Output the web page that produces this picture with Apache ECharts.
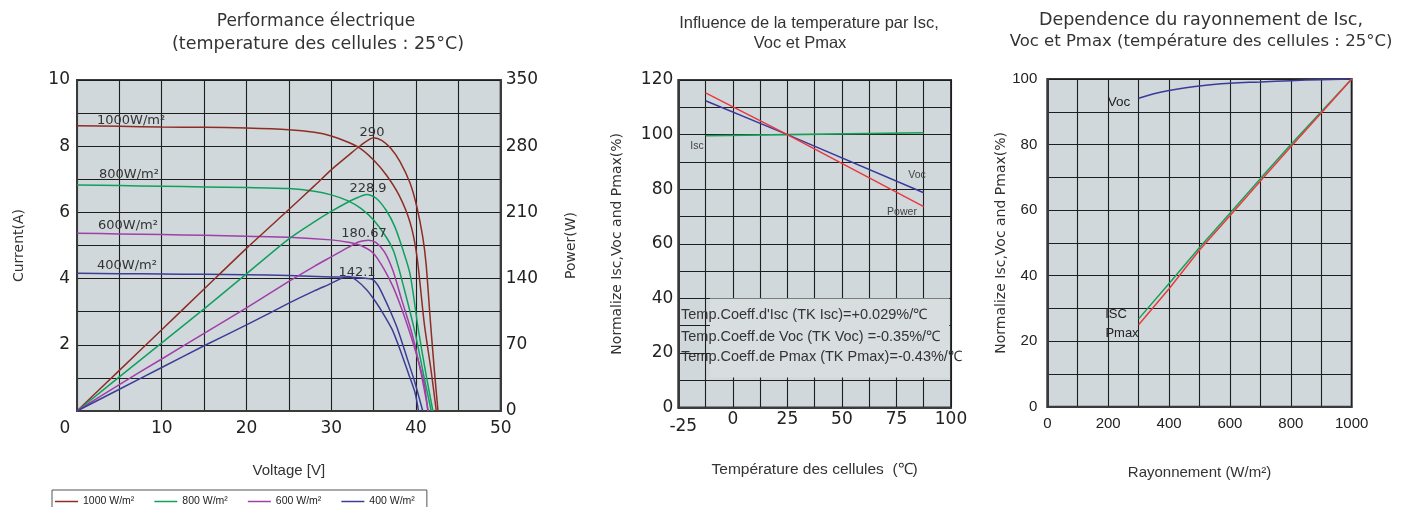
<!DOCTYPE html>
<html>
<head>
<meta charset="utf-8">
<script src="https://cdn.jsdelivr.net/npm/echarts@6/dist/echarts.min.js"></script>
<style>
html,body{margin:0;padding:0;background:#fff;}
#c{width:1401px;height:507px;}
</style>
</head>
<body>
<div id="c"></div>
<script>
// ---------- Chart 1: I-V / P-V curves ----------
const irradianceNames = ['1000 W/m²', '800 W/m²', '600 W/m²', '400 W/m²'];
const curveColors = ['#8e2d25', '#10a05e', '#a03fa8', '#3d3d96'];
const iv1000 = [[0,8.62],[5,8.60],[10,8.58],[15,8.57],[20,8.55],[25,8.50],[28,8.42],[30,8.31],[32,8.12],[33.5,7.92],[35,7.58],[36.5,7.13],[38,6.52],[39.3,5.7],[40.1,4.7],[41.0,2.6],[41.8,1.2],[42.4,0]];
const pv1000 = [[0,0],[5,43],[10,86],[15,129],[20,172],[25,213],[28,238],[30,255],[32,270],[33.5,281],[35,289],[36,286],[37,278],[38.1,264],[39.3,241],[40.1,216],[40.8,184],[41.2,155],[41.7,95],[42.2,40],[42.6,0]];
const iv800 = [[0,6.83],[5,6.81],[10,6.79],[15,6.77],[20,6.75],[25,6.72],[28,6.64],[30,6.53],[32,6.35],[33.5,6.12],[35,5.77],[36.5,5.25],[37.4,4.8],[38.6,3.7],[39.9,2.36],[40.9,1.1],[41.8,0]];
const pv800 = [[0,0],[5,36],[10,72],[15,108],[20,145],[25,182],[28,200],[30,211],[32,221],[33.2,226],[34.2,228.9],[35.3,225],[36.5,212],[37.5,195],[38.4,172],[39.3,145],[40.3,85],[41.2,38],[42.0,0]];
const iv600 = [[0,5.37],[5,5.35],[10,5.33],[15,5.31],[20,5.28],[25,5.25],[30,5.17],[32,5.10],[33.5,5.0],[35,4.76],[36.2,4.3],[37.3,3.75],[38.3,3.1],[39.3,2.35],[40.3,1.5],[41.0,0.8],[41.4,0]];
const pv600 = [[0,0],[5,28],[10,55],[15,82],[20,109],[25,137],[28,153],[30,163],[32,173],[33.3,179],[34.4,180.67],[35.3,178],[36.3,168],[37.3,148],[38.3,118],[39.5,83],[40.6,40],[41.45,0]];
const iv400 = [[0,4.16],[5,4.15],[10,4.14],[15,4.13],[20,4.12],[25,4.09],[30,4.05],[33,4.03],[34.8,3.98],[35.5,3.8],[36.2,3.45],[37.0,3.0],[37.8,2.5],[38.9,1.64],[39.9,0.84],[40.8,0]];
const pv400 = [[0,0],[5,23],[10,46],[15,69],[20,91],[25,114],[28,127],[30,135],[31,139.5],[32,142.1],[33,138],[34.2,128],[35.2,116],[36.2,102],[37.2,86],[38.2,63],[39.1,40],[39.9,19],[40.3,0]];
const peakLabels = ['290', '228.9', '180.67', '142.1'];
const curveLabels = ['1000W/m²', '800W/m²', '600W/m²', '400W/m²'];

// ---------- Chart 2: temperature influence ----------
const tempIsc = [[-12.5,99.6],[25,100],[87.5,100.7]];
const tempVoc = [[-12.5,112.4],[25,100],[87.5,78.7]];
const tempPower = [[-12.5,115.3],[25,100],[87.5,73.6]];
const coeffTexts = ["Temp.Coeff.d'Isc (TK Isc)=+0.029%/℃", "Temp.Coeff.de Voc (TK Voc) =-0.35%/℃", "Temp.Coeff.de Pmax (TK Pmax)=-0.43%/℃"];

// ---------- Chart 3: irradiance dependence ----------
const irrVoc = [[300,94.1],[350,95.5],[400,96.5],[500,97.9],[600,98.7],[700,99.1],[800,99.5],[900,99.8],[1000,100]];
const irrIsc = [[300,26.8],[400,37.6],[500,48.6],[600,59.0],[700,69.6],[800,80.0],[900,90.0],[1000,100]];
const irrPmax = [[300,25.0],[400,36.0],[500,47.8],[600,58.3],[700,68.9],[800,79.3],[900,89.6],[1000,100]];

const BG = '#d0d8dc';
const GRIDLINE = '#1e1e1e';
const TXT = '#333';
const F1 = 'DejaVu Sans';
const F2 = 'Liberation Sans';

const chart = echarts.init(document.getElementById('c'), null, {renderer: 'canvas'});

function gridDef(left, top, width, height) {
  return {left, top, width, height, show: true, backgroundColor: BG, borderColor: '#3a3a3a', borderWidth: 2, containLabel: false};
}
function valAxis(extra) {
  return Object.assign({
    type: 'value',
    axisLine: {show: true, onZero: false, lineStyle: {color: '#3a3a3a', width: 2}},
    axisTick: {show: false},
    splitLine: {show: true, lineStyle: {color: GRIDLINE, width: 1.1}},
    nameLocation: 'middle',
    nameTextStyle: {color: TXT}
  }, extra);
}
function every(step) {
  return function (v) { return Math.abs(v / step - Math.round(v / step)) < 1e-6 ? String(v) : ''; };
}

const ivSets = [iv1000, iv800, iv600, iv400];
const pvSets = [pv1000, pv800, pv600, pv400];

const series = [];
ivSets.forEach((d, i) => {
  series.push({name: irradianceNames[i], type: 'line', xAxisIndex: 0, yAxisIndex: 0, data: d,
    smooth: 0.25, symbol: 'none', showSymbol: false,
    lineStyle: {color: curveColors[i], width: 1.5}, itemStyle: {color: curveColors[i]}, z: 3});
});
pvSets.forEach((d, i) => {
  series.push({name: 'P ' + irradianceNames[i], type: 'line', xAxisIndex: 0, yAxisIndex: 1, data: d,
    smooth: 0.25, symbol: 'none', showSymbol: false,
    lineStyle: {color: curveColors[i], width: 1.5}, itemStyle: {color: curveColors[i]}, z: 3});
});
series.push({name: 'Isc', type: 'line', xAxisIndex: 1, yAxisIndex: 2, data: tempIsc, symbol: 'none',
  lineStyle: {color: '#1a9e58', width: 1.6}, itemStyle: {color: '#1a9e58'}, z: 4,
  markArea: {silent: true, itemStyle: {color: '#d8dde0'}, data: [[{coord: [-10.5, 40]}, {coord: [99.2, 11]}]]}});
series.push({name: 'Voc', type: 'line', xAxisIndex: 1, yAxisIndex: 2, data: tempVoc, symbol: 'none',
  lineStyle: {color: '#3a3a99', width: 1.4}, itemStyle: {color: '#3a3a99'}, z: 4});
series.push({name: 'Power', type: 'line', xAxisIndex: 1, yAxisIndex: 2, data: tempPower, symbol: 'none',
  lineStyle: {color: '#e8383d', width: 1.4}, itemStyle: {color: '#e8383d'}, z: 5});
series.push({name: 'Voc2', type: 'line', xAxisIndex: 2, yAxisIndex: 3, data: irrVoc, symbol: 'none', smooth: 0.4,
  lineStyle: {color: '#3a3a99', width: 1.5}, itemStyle: {color: '#3a3a99'}, z: 4});
series.push({name: 'Isc2', type: 'line', xAxisIndex: 2, yAxisIndex: 3, data: irrIsc, symbol: 'none',
  lineStyle: {color: '#16a05c', width: 1.5}, itemStyle: {color: '#16a05c'}, z: 4});
series.push({name: 'Pmax2', type: 'line', xAxisIndex: 2, yAxisIndex: 3, data: irrPmax, symbol: 'none',
  lineStyle: {color: '#e83a3a', width: 1.5}, itemStyle: {color: '#e83a3a'}, z: 4});

function txt(x, y, text, opt) {
  opt = opt || {};
  return {type: 'text', x, y, silent: true, z: 100,
    style: {text, fill: opt.fill || TXT, fontSize: opt.size || 13, fontFamily: opt.family || F1,
      fontWeight: opt.weight || 'normal', align: opt.align || 'center', verticalAlign: 'middle'}};
}

const graphics = [
  // titles
  txt(316, 22, 'Performance électrique', {size: 17}),
  txt(318, 44, '(temperature des cellules : 25°C)', {size: 17.5}),
  txt(809, 23, 'Influence de la temperature par Isc,', {size: 16.5, family: F2}),
  txt(800, 43, 'Voc et Pmax', {size: 16.5, family: F2}),
  txt(1201, 20, 'Dependence du rayonnement de Isc,', {size: 17.5}),
  txt(1201, 42, 'Voc et Pmax (température des cellules : 25°C)', {size: 16.5}),
  // chart 1 annotations
  txt(97, 121, curveLabels[0], {align: 'left'}),
  txt(99, 175, curveLabels[1], {align: 'left'}),
  txt(98, 226, curveLabels[2], {align: 'left'}),
  txt(97, 266, curveLabels[3], {align: 'left'}),
  txt(372, 133, peakLabels[0]),
  txt(368, 189, peakLabels[1]),
  txt(364, 234, peakLabels[2]),
  txt(357, 273, peakLabels[3]),
  // chart 2 annotations
  txt(697, 146, 'Isc', {size: 10.5, family: F2, fill: '#444'}),
  txt(917, 175, 'Voc', {size: 10.5, family: F2, fill: '#444'}),
  txt(902, 212, 'Power', {size: 10.5, family: F2, fill: '#444'}),
  txt(681, 315, coeffTexts[0], {size: 14.5, family: F2, align: 'left'}),
  txt(681, 336.5, coeffTexts[1], {size: 14.5, family: F2, align: 'left'}),
  txt(681, 357, coeffTexts[2], {size: 14.5, family: F2, align: 'left'}),
  // chart 3 annotations
  txt(1119, 102, 'Voc', {size: 13.5, family: F2, fill: '#222'}),
  txt(1116, 314, 'ISC', {size: 13, family: F2, fill: '#222'}),
  txt(1122, 333, 'Pmax', {size: 13, family: F2, fill: '#222'})
];

const option = {
  animation: false,
  backgroundColor: '#fff',
  textStyle: {fontFamily: F1},
  grid: [
    gridDef(77, 80, 423.7, 331),
    gridDef(678.3, 80, 272.7, 327.6),
    gridDef(1047.3, 79, 304.4, 327.7)
  ],
  xAxis: [
    valAxis({gridIndex: 0, min: 0, max: 50, interval: 5, name: 'Voltage [V]', nameGap: 52,
      nameTextStyle: {color: TXT, fontFamily: F2, fontSize: 15},
      axisLabel: {formatter: v => v === 0 ? '{z|0}' : every(10)(v), fontFamily: F1, fontSize: 17, color: '#222', margin: 9,
        rich: {z: {fontFamily: F1, fontSize: 17, color: '#222', padding: [0, 24, 0, 0]}}}}),
    valAxis({gridIndex: 1, min: -25, max: 100, interval: 12.5, name: 'Température des cellules  (℃)', nameGap: 54,
      nameTextStyle: {color: TXT, fontFamily: F2, fontSize: 15.5},
      axisLabel: {formatter: v => v === -25 ? '{m|-25}' : every(25)(v), fontFamily: F1, fontSize: 17, color: '#222', margin: 3,
        rich: {m: {fontFamily: F1, fontSize: 17, color: '#222', padding: [7, 0, 0, 10]}}}}),
    valAxis({gridIndex: 2, min: 0, max: 1000, interval: 100, name: 'Rayonnement (W/m²)', nameGap: 59,
      nameTextStyle: {color: TXT, fontFamily: F2, fontSize: 15},
      axisLabel: {formatter: every(200), fontFamily: F2, fontSize: 15, color: '#222', margin: 10}})
  ],
  yAxis: [
    valAxis({gridIndex: 0, min: 0, max: 10, interval: 1, name: 'Current(A)', nameGap: 51,
      nameTextStyle: {color: TXT, fontFamily: F1, fontSize: 14},
      axisLabel: {formatter: v => (v % 2 === 0 && v !== 0) ? String(v) : '', fontFamily: F1, fontSize: 17, color: '#222', margin: 7}}),
    valAxis({gridIndex: 0, min: 0, max: 350, interval: 35, position: 'right', name: 'Power(W)', nameGap: 64,
      nameTextStyle: {color: TXT, fontFamily: F1, fontSize: 14},
      splitLine: {show: false},
      axisLabel: {formatter: every(70), fontFamily: F1, fontSize: 17, color: '#222', margin: 5}}),
    valAxis({gridIndex: 1, min: 0, max: 120, interval: 10, name: 'Normalize Isc,Voc and Pmax(%)', nameGap: 54,
      nameTextStyle: {color: TXT, fontFamily: F1, fontSize: 14},
      axisLabel: {formatter: every(20), fontFamily: F1, fontSize: 17, color: '#222', margin: 5}}),
    valAxis({gridIndex: 2, min: 0, max: 100, interval: 10, name: 'Normalize Isc,Voc and Pmax(%)', nameGap: 39,
      nameTextStyle: {color: TXT, fontFamily: F1, fontSize: 14},
      axisLabel: {formatter: every(20), fontFamily: F2, fontSize: 15, color: '#222', margin: 10}})
  ],
  legend: {
    data: irradianceNames,
    left: 52, top: 490,
    orient: 'horizontal',
    icon: 'rect',
    itemWidth: 23, itemHeight: 1.5, itemGap: 20,
    padding: [6, 12, 8, 3],
    borderColor: '#555', borderWidth: 1,
    selectedMode: false,
    textStyle: {fontFamily: F2, fontSize: 10.5, color: '#222'}
  },
  series: series,
  graphic: graphics
};
chart.setOption(option);
</script>
</body>
</html>
